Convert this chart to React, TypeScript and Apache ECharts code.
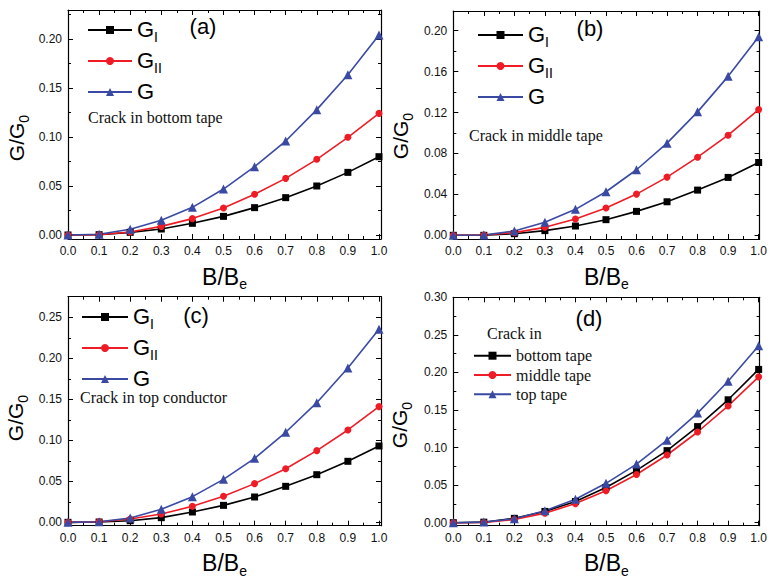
import React, { useEffect, useRef } from "react";
import * as echarts from "echarts";

// ---------- data ----------
const X = [0, 0.1, 0.2, 0.3, 0.4, 0.5, 0.6, 0.7, 0.8, 0.9, 1.0];
const xTicks = [0, 0.1, 0.2, 0.3, 0.4, 0.5, 0.6, 0.7, 0.8, 0.9, 1.0];
const xMinorTicks = [0.05, 0.15, 0.25, 0.35, 0.45, 0.55, 0.65, 0.75, 0.85, 0.95];

// (a) crack in bottom tape
const aGI = [0, 0.0003, 0.0027, 0.0061, 0.0119, 0.019, 0.0279, 0.0381, 0.05, 0.0639, 0.0799];
const aGII = [0, 0.0003, 0.0031, 0.0088, 0.0167, 0.0276, 0.0415, 0.0578, 0.0772, 0.0997, 0.1241];
const aG = [0, 0.0007, 0.0058, 0.015, 0.0282, 0.0469, 0.0697, 0.0959, 0.1279, 0.1636, 0.204];
// (b) crack in middle tape
const bGI = [0, 0.0, 0.0016, 0.0046, 0.0091, 0.0153, 0.0234, 0.0328, 0.0442, 0.0566, 0.0712];
const bGII = [0, 0.0003, 0.0026, 0.0078, 0.0159, 0.0267, 0.0403, 0.0569, 0.0764, 0.0979, 0.1229];
const bG = [0, 0.0003, 0.0042, 0.0127, 0.0254, 0.0426, 0.0641, 0.0901, 0.1207, 0.1554, 0.1941];
// (c) crack in top conductor
const cGI = [0, 0.0004, 0.002, 0.0057, 0.0126, 0.0207, 0.0309, 0.0439, 0.0581, 0.0744, 0.0931];
const cGII = [0, 0.0008, 0.0041, 0.0102, 0.0195, 0.0317, 0.0472, 0.0654, 0.0874, 0.1126, 0.1411];
const cG = [0, 0.0008, 0.0053, 0.0159, 0.0313, 0.0524, 0.078, 0.1098, 0.1459, 0.1882, 0.2354];
// (d) total G for each crack location
const dBottom = aG;
const dMiddle = bG;
const dTop = cG;

const yTicksA = [0, 0.05, 0.1, 0.15, 0.2];
const yMinorA = [0.025, 0.075, 0.125, 0.175, 0.225];
const yTicksB = [0, 0.04, 0.08, 0.12, 0.16, 0.2];
const yMinorB = [0.02, 0.06, 0.1, 0.14, 0.18];
const yTicksC = [0, 0.05, 0.1, 0.15, 0.2, 0.25];
const yMinorC = [0.025, 0.075, 0.125, 0.175, 0.225];
const yTicksD = [0, 0.05, 0.1, 0.15, 0.2, 0.25, 0.3];
const yMinorD = [0.025, 0.075, 0.125, 0.175, 0.225, 0.275];

const panelLabels = ["(a)", "(b)", "(c)", "(d)"];
const crackTexts = ["Crack in bottom tape", "Crack in middle tape", "Crack in top conductor", "Crack in"];
const dNames = ["bottom tape", "middle tape", "top tape"];

// ---------- styles ----------
const SANS = "'Liberation Sans', Arial, sans-serif";
const SERIF = "'Liberation Serif', 'Times New Roman', serif";
const BLACK = "#000000";
const RED = "#ef1c25";
const BLUE = "#3a4aa3";

const panels = [
  { left: 68, top: 10, right: 381, bottom: 239, xMax: 1.0065, yMin: -0.0041, yMax: 0.2296, yTicks: yTicksA, yMinor: yMinorA },
  { left: 453.3, top: 11, right: 764.5, bottom: 239, xMax: 1.003, yMin: -0.0036, yMax: 0.2193, yTicks: yTicksB, yMinor: yMinorB },
  { left: 68, top: 296.7, right: 381, bottom: 525.7, xMax: 1.0065, yMin: -0.0041, yMax: 0.2751, yTicks: yTicksC, yMinor: yMinorC },
  { left: 453.3, top: 297.3, right: 764.5, bottom: 525.7, xMax: 1.003, yMin: -0.004, yMax: 0.3, yTicks: yTicksD, yMinor: yMinorD },
];

const zip = (ys: number[]) => X.map((x, i) => [x, ys[i]]);

const xTitleRich = {
  t: { fontSize: 23, fontFamily: SANS, color: "#000", verticalAlign: "top", lineHeight: 24 },
  s: { fontSize: 14, fontFamily: SANS, color: "#000", verticalAlign: "top", lineHeight: 14, padding: [12, 0, 0, 0] },
};
const yTitleRich = {
  t: { fontSize: 21, fontFamily: SANS, color: "#000", verticalAlign: "top", lineHeight: 22 },
  s: { fontSize: 14, fontFamily: SANS, color: "#000", verticalAlign: "top", lineHeight: 14, padding: [11, 0, 0, 0] },
};
const legendRich = {
  g: { fontSize: 22, fontFamily: SANS, color: "#000", verticalAlign: "top", lineHeight: 24 },
  s: { fontSize: 14, fontFamily: SANS, color: "#000", verticalAlign: "top", lineHeight: 14, padding: [12, 0, 0, 0] },
};

function buildOption() {
  const grid: any[] = [];
  const xAxis: any[] = [];
  const yAxis: any[] = [];
  const lineStyle = { show: true, onZero: false, lineStyle: { color: "#000", width: 1.2 } };
  const noLine = { show: false, onZero: false };
  const major = (vals: number[]) => ({ show: true, inside: true, length: 5, customValues: vals, lineStyle: { color: "#000", width: 1 } });
  const minor = (vals: number[]) => ({ show: true, inside: true, length: 3, customValues: vals, lineStyle: { color: "#000", width: 1 } });
  const labelStyle = { color: "#111", fontSize: 12, fontFamily: SANS };

  panels.forEach((p, i) => {
    grid.push({ left: p.left, top: p.top, width: p.right - p.left, height: p.bottom - p.top, containLabel: false });
    const xc = { gridIndex: i, type: "value", min: 0, max: p.xMax, splitLine: { show: false }, axisLabel: { show: false } };
    xAxis.push(
      {
        ...xc,
        position: "bottom",
        axisLine: lineStyle,
        axisTick: major(xTicks),
        axisLabel: { show: true, customValues: xTicks, formatter: (v: number) => v.toFixed(1), margin: 6, ...labelStyle },
        name: "{t|B/B}{s|e}",
        nameLocation: "middle",
        nameGap: 26,
        nameTextStyle: { rich: xTitleRich },
      },
      { ...xc, position: "bottom", axisLine: noLine, axisTick: minor(xMinorTicks) },
      { ...xc, position: "top", axisLine: lineStyle, axisTick: major(xTicks) },
      { ...xc, position: "top", axisLine: noLine, axisTick: minor(xMinorTicks) }
    );
    const yc = { gridIndex: i, type: "value", min: p.yMin, max: p.yMax, splitLine: { show: false }, axisLabel: { show: false } };
    yAxis.push(
      {
        ...yc,
        position: "left",
        axisLine: lineStyle,
        axisTick: major(p.yTicks),
        axisLabel: { show: true, customValues: p.yTicks, formatter: (v: number) => v.toFixed(2), margin: 6, ...labelStyle },
      },
      { ...yc, position: "left", axisLine: noLine, axisTick: minor(p.yMinor) },
      { ...yc, position: "right", axisLine: lineStyle, axisTick: major(p.yTicks) },
      { ...yc, position: "right", axisLine: noLine, axisTick: minor(p.yMinor) }
    );
  });

  const mk = (name: string, i: number, ys: number[], color: string, symbol: string, size: number) => ({
    name,
    type: "line",
    xAxisIndex: i * 4,
    yAxisIndex: i * 4,
    data: zip(ys),
    symbol,
    symbolSize: size,
    clip: false,
    lineStyle: { color, width: 1.6 },
    itemStyle: { color },
    emphasis: { disabled: true },
  });

  const series = [
    mk("GI (a)", 0, aGI, BLACK, "rect", 7),
    mk("GII (a)", 0, aGII, RED, "circle", 7),
    mk("G (a)", 0, aG, BLUE, "triangle", 9),
    mk("GI (b)", 1, bGI, BLACK, "rect", 7),
    mk("GII (b)", 1, bGII, RED, "circle", 7),
    mk("G (b)", 1, bG, BLUE, "triangle", 9),
    mk("GI (c)", 2, cGI, BLACK, "rect", 7),
    mk("GII (c)", 2, cGII, RED, "circle", 7),
    mk("G (c)", 2, cG, BLUE, "triangle", 9),
    mk(dNames[0], 3, dBottom, BLACK, "rect", 7),
    mk(dNames[1], 3, dMiddle, RED, "circle", 7),
    mk(dNames[2], 3, dTop, BLUE, "triangle", 9),
  ];

  const gLabel = (name: string) => {
    if (name.startsWith("GII")) return "{g|G}{s|II}";
    if (name.startsWith("GI")) return "{g|G}{s|I}";
    return "{g|G}";
  };
  const gLegend = (tag: string, left: number, top: number, w: number) => ({
    orient: "vertical",
    left,
    top,
    padding: 0,
    itemWidth: w,
    itemHeight: 10,
    itemGap: 5,
    selectedMode: false,
    data: ["GI " + tag, "GII " + tag, "G " + tag],
    formatter: gLabel,
    textStyle: { rich: legendRich },
  });

  const legend = [
    gLegend("(a)", 87, 18, 44),
    gLegend("(b)", 477, 23, 45),
    gLegend("(c)", 81, 305, 46),
    {
      orient: "vertical",
      left: 473,
      top: 347.7,
      padding: 0,
      itemWidth: 37,
      itemHeight: 10,
      itemGap: 3.3,
      selectedMode: false,
      data: dNames,
      textStyle: { fontFamily: SERIF, fontSize: 16, color: "#111", lineHeight: 16 },
    },
  ];

  const yTitlePos = [
    [17, 138],
    [401, 136],
    [16, 418],
    [400, 425],
  ];
  const labelPos = [
    [203, 26.5],
    [590, 28],
    [196, 315],
    [589, 318],
  ];
  const crackPos = [
    [88, 117],
    [469, 135],
    [80, 397],
    [487, 333],
  ];

  const graphic: any[] = [];
  yTitlePos.forEach(([x, y]) =>
    graphic.push({
      type: "text",
      x,
      y,
      rotation: Math.PI / 2,
      style: { text: "{t|G/G}{s|0}", rich: yTitleRich, align: "center", verticalAlign: "middle", fill: "#000" },
    })
  );
  labelPos.forEach(([x, y], i) =>
    graphic.push({
      type: "text",
      x,
      y,
      style: { text: panelLabels[i], fontSize: 22, fontFamily: SANS, fill: "#000", align: "center", verticalAlign: "middle" },
    })
  );
  crackPos.forEach(([x, y], i) =>
    graphic.push({
      type: "text",
      x,
      y,
      style: { text: crackTexts[i], fontSize: 16, fontFamily: SERIF, fill: "#111", align: "left", verticalAlign: "middle" },
    })
  );

  return {
    animation: false,
    backgroundColor: "#ffffff",
    grid,
    xAxis,
    yAxis,
    legend,
    series,
    graphic,
  };
}

export default function App() {
  const ref = useRef<HTMLDivElement>(null);
  useEffect(() => {
    if (!ref.current) return;
    const chart = echarts.init(ref.current, undefined, { renderer: "svg" });
    chart.setOption(buildOption() as any);
    return () => chart.dispose();
  }, []);
  return <div ref={ref} style={{ position: "fixed", left: 0, top: 0, width: 770, height: 579 }} />;
}
